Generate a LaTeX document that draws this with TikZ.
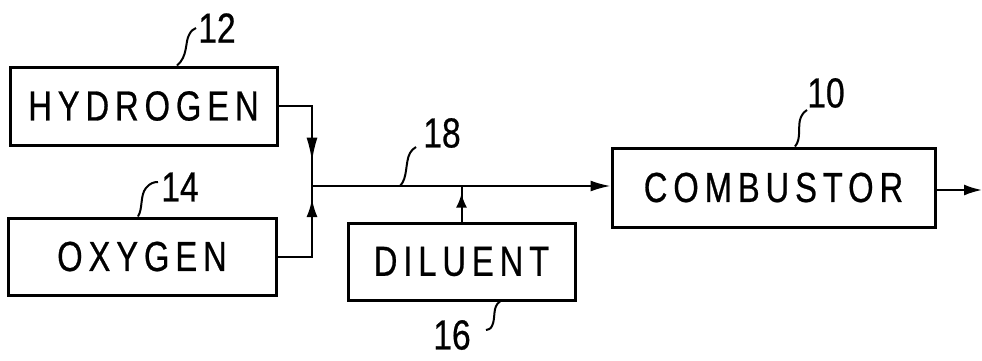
\documentclass[tikz,border=0pt]{standalone}
\usepackage{fontspec}
\usetikzlibrary{arrows.meta,decorations.markings}
\newfontfamily\boxfont[FakeStretch=0.78,LetterSpace=14,FakeBold=0.6]{Liberation Sans}
\newfontfamily\numfont[FakeStretch=0.8,FakeBold=0.6]{Liberation Sans}
\begin{document}
\begin{tikzpicture}[x=1pt,y=-1pt,
  blk/.style={draw,line width=3pt,inner sep=0pt,font=\boxfont\fontsize{42}{42}\selectfont},
  num/.style={inner sep=0pt,font=\numfont\fontsize{42}{42}\selectfont},
  conn/.style={line width=2pt},
  lead/.style={line width=2pt},
  tip/.style={-{Latex[length=#1,width=11pt]}},
  midarrow/.style 2 args={postaction={decorate},decoration={markings,
     mark=at position #1 with {\arrow{Latex[length=#2,width=11pt]}}}}]
\useasboundingbox (0,0) rectangle (982,360);
\node[blk,minimum width=267pt,minimum height=78pt] (hyd) at (143.5,106) {HYDROGEN};
\node[blk,minimum width=268pt,minimum height=77pt] (oxy) at (142,256.5) {OXYGEN};
\node[blk,minimum width=227pt,minimum height=77pt] (dil) at (461.5,261.5) {DILUENT};
\node[blk,minimum width=323pt,minimum height=79pt] (com) at (773.5,187.5) {COMBUSTOR};
\coordinate (j) at (312,186);
\coordinate (out) at (982,190);
% connectors
\draw[conn,midarrow={89pt}{24pt}] (hyd.east) -| (j);
\draw[conn,midarrow={92pt}{18pt}] (oxy.east) -| (j);
\draw[conn,tip=20pt] (j) -- (com.west |- j);
\draw[conn,midarrow={28pt}{14pt}] (dil.north) -- (dil.north |- j);
\draw[conn,tip=18pt] (com.east |- out) -- (out);
% labels
\node[num] (n12) at (217,28) {12};
\node[num] (n14) at (180,187) {14};
\node[num] (n18) at (442,133) {18};
\node[num] (n16) at (452,335) {16};
\node[num] (n10) at (826,93) {10};
% leaders
\draw[lead] ([xshift=33.5pt]hyd.north) .. controls +(11,-9) and +(-4,7) .. (189,35) .. controls +(2,-4) and +(-3,1) .. (196,28);
\draw[lead] ([xshift=-4pt]oxy.north) .. controls +(5,-8) and +(-6,7) .. (146,188) .. controls +(4,-5) and +(-4,0) .. (158,182);
\draw[lead] (400,186) .. controls +(8,-8) and +(-5,9) .. (410,153) .. controls +(2,-3) and +(-2,1) .. (416,147);
\draw[lead] ([xshift=38.5pt]dil.south) .. controls +(-8,5) and +(4,-8) .. (492,326) .. controls +(-2,4) and +(2,-1) .. (486,330);
\draw[lead] ([xshift=21.5pt]com.north) .. controls +(7,-8) and +(-4,8) .. (801,117) .. controls +(2,-4) and +(-2,1) .. (807,110);
\end{tikzpicture}
\end{document}
